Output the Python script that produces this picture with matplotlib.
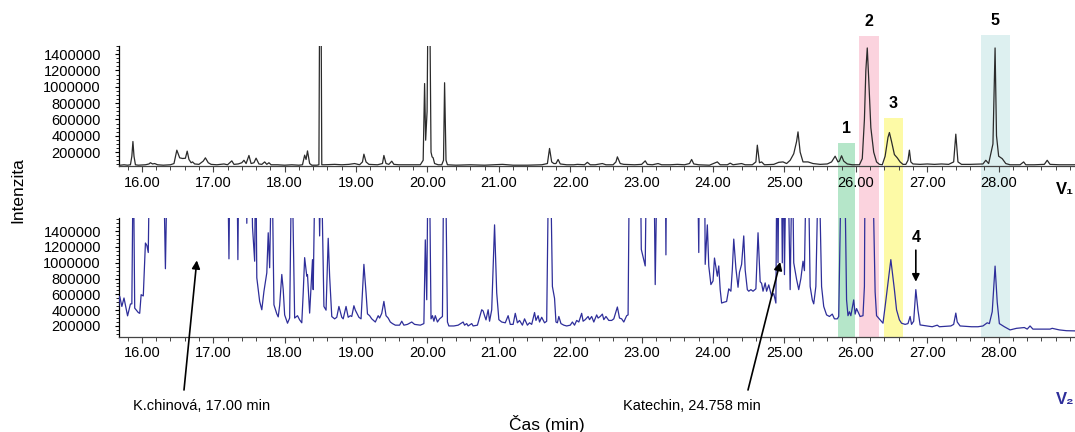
import matplotlib
matplotlib.use('Agg')
import matplotlib.pyplot as plt
from matplotlib.patches import Rectangle
from matplotlib.ticker import MultipleLocator, FixedLocator, FixedFormatter
from matplotlib.transforms import blended_transform_factory

plt.rcParams['font.family'] = ['Liberation Sans', 'DejaVu Sans']
plt.rcParams['font.size'] = 10

# ---- V1 chromatogram (time in min, intensity) ----
v1_time = [15.66, 15.70, 15.75, 15.80, 15.84, 15.86, 15.875, 15.89, 15.91, 15.95,
           16.05, 16.10, 16.12, 16.15, 16.18, 16.22, 16.30, 16.40, 16.45, 16.49,
           16.53, 16.57, 16.61, 16.635, 16.66, 16.69, 16.71, 16.74, 16.80, 16.86,
           16.89, 16.93, 16.97, 17.05, 17.10, 17.15, 17.20, 17.26, 17.29, 17.35,
           17.40, 17.43, 17.46, 17.50, 17.53, 17.57, 17.60, 17.64, 17.68, 17.72,
           17.75, 17.78, 17.81, 17.90, 18.00, 18.10, 18.20, 18.25, 18.28, 18.30,
           18.32, 18.35, 18.38, 18.45, 18.48, 18.492, 18.508, 18.52, 18.56, 18.70,
           18.80, 18.90, 18.98, 19.05, 19.09, 19.11, 19.14, 19.18, 19.30, 19.37,
           19.39, 19.42, 19.46, 19.50, 19.53, 19.60, 19.75, 19.90, 19.94, 19.96,
           19.975, 19.995, 20.012, 20.028, 20.05, 20.065, 20.08, 20.10, 20.15, 20.20,
           20.225, 20.24, 20.26, 20.28, 20.40, 20.60, 20.80, 21.05, 21.20, 21.40,
           21.60, 21.68, 21.71, 21.74, 21.77, 21.80, 21.83, 21.86, 21.95, 22.05,
           22.10, 22.20, 22.24, 22.28, 22.35, 22.45, 22.50, 22.60, 22.64, 22.66,
           22.70, 22.75, 22.90, 23.00, 23.05, 23.08, 23.15, 23.23, 23.28, 23.40,
           23.50, 23.60, 23.67, 23.70, 23.73, 23.80, 23.95, 24.06, 24.10, 24.20,
           24.24, 24.28, 24.40, 24.45, 24.55, 24.60, 24.62, 24.65, 24.68, 24.72,
           24.85, 24.92, 24.98, 25.03, 25.08, 25.13, 25.17, 25.19, 25.22, 25.26,
           25.33, 25.40, 25.50, 25.60, 25.66, 25.71, 25.75, 25.77, 25.80, 25.83,
           25.88, 25.95, 26.05, 26.09, 26.12, 26.14, 26.16, 26.18, 26.21, 26.25,
           26.29, 26.33, 26.37, 26.41, 26.45, 26.47, 26.50, 26.54, 26.58, 26.62,
           26.66, 26.70, 26.73, 26.75, 26.77, 26.80, 26.90, 27.00, 27.10, 27.20,
           27.30, 27.37, 27.40, 27.43, 27.48, 27.60, 27.78, 27.82, 27.86, 27.92,
           27.95, 27.97, 28.00, 28.05, 28.10, 28.16, 28.30, 28.35, 28.38, 28.50,
           28.64, 28.68, 28.72, 28.85, 29.00, 29.10]
v1_int = [45e3, 40e3, 45e3, 40e3, 45e3, 150e3, 330e3, 150e3, 45e3, 40e3,
          45e3, 55e3, 70e3, 55e3, 60e3, 45e3, 40e3, 45e3, 60e3, 224e3,
          130e3, 122e3, 125e3, 212e3, 110e3, 70e3, 80e3, 55e3, 50e3, 90e3,
          130e3, 70e3, 50e3, 45e3, 50e3, 55e3, 45e3, 93e3, 50e3, 55e3,
          70e3, 100e3, 60e3, 159e3, 60e3, 70e3, 126e3, 55e3, 50e3, 80e3,
          50e3, 70e3, 45e3, 45e3, 40e3, 45e3, 40e3, 45e3, 163e3, 110e3,
          215e3, 60e3, 40e3, 40e3, 45e3, 2500e3, 2500e3, 45e3, 45e3, 50e3,
          45e3, 50e3, 60e3, 45e3, 80e3, 175e3, 80e3, 50e3, 45e3, 60e3,
          159e3, 60e3, 50e3, 89e3, 50e3, 45e3, 45e3, 45e3, 100e3, 1040e3,
          346e3, 700e3, 2500e3, 2500e3, 200e3, 142e3, 130e3, 60e3, 45e3, 45e3,
          100e3, 1050e3, 100e3, 45e3, 40e3, 45e3, 40e3, 50e3, 40e3, 40e3,
          45e3, 60e3, 245e3, 80e3, 60e3, 60e3, 110e3, 55e3, 45e3, 45e3,
          50e3, 45e3, 75e3, 45e3, 45e3, 60e3, 45e3, 45e3, 80e3, 142e3,
          60e3, 50e3, 45e3, 50e3, 93e3, 50e3, 45e3, 60e3, 45e3, 45e3,
          50e3, 45e3, 60e3, 110e3, 55e3, 45e3, 40e3, 80e3, 45e3, 45e3,
          65e3, 45e3, 60e3, 45e3, 45e3, 80e3, 285e3, 70e3, 80e3, 45e3,
          50e3, 75e3, 80e3, 60e3, 100e3, 180e3, 330e3, 448e3, 200e3, 80e3,
          80e3, 60e3, 50e3, 55e3, 80e3, 150e3, 80e3, 90e3, 155e3, 90e3,
          55e3, 45e3, 45e3, 120e3, 600e3, 1200e3, 1476e3, 1100e3, 500e3, 200e3,
          80e3, 50e3, 45e3, 150e3, 380e3, 440e3, 330e3, 170e3, 130e3, 80e3,
          50e3, 50e3, 100e3, 224e3, 80e3, 55e3, 50e3, 55e3, 50e3, 55e3,
          50e3, 80e3, 420e3, 80e3, 50e3, 50e3, 55e3, 100e3, 60e3, 300e3,
          1476e3, 400e3, 150e3, 120e3, 60e3, 45e3, 45e3, 80e3, 45e3, 45e3,
          50e3, 100e3, 50e3, 45e3, 45e3, 45e3]

# ---- V2 chromatogram ----
v2_time = [15.65, 15.67, 15.69, 15.72, 15.75, 15.80, 15.84, 15.86, 15.88, 15.90,
           15.95, 15.97, 15.99, 16.02, 16.05, 16.07, 16.09, 16.11, 16.30, 16.33,
           16.36, 17.20, 17.22, 17.235, 17.33, 17.345, 17.36, 17.46, 17.47, 17.48,
           17.53, 17.55, 17.58, 17.595, 17.61, 17.65, 17.68, 17.71, 17.75, 17.77,
           17.79, 17.82, 17.85, 17.89, 17.91, 17.93, 17.96, 17.98, 18.00, 18.04,
           18.07, 18.10, 18.14, 18.18, 18.21, 18.24, 18.26, 18.28, 18.31, 18.32,
           18.35, 18.39, 18.40, 18.43, 18.47, 18.49, 18.51, 18.55, 18.58, 18.61,
           18.63, 18.66, 18.70, 18.73, 18.76, 18.80, 18.82, 18.86, 18.89, 18.92,
           18.94, 18.97, 18.99, 19.04, 19.07, 19.11, 19.14, 19.16, 19.19, 19.22,
           19.27, 19.31, 19.33, 19.36, 19.39, 19.42, 19.45, 19.48, 19.51, 19.55,
           19.61, 19.64, 19.67, 19.72, 19.78, 19.82, 19.90, 19.95, 19.97, 19.99,
           20.01, 20.025, 20.05, 20.07, 20.09, 20.11, 20.14, 20.17, 20.21, 20.23,
           20.25, 20.28, 20.30, 20.37, 20.43, 20.50, 20.52, 20.55, 20.57, 20.62,
           20.64, 20.70, 20.76, 20.78, 20.80, 20.82, 20.85, 20.87, 20.90, 20.94,
           20.97, 21.00, 21.04, 21.09, 21.13, 21.16, 21.20, 21.23, 21.26, 21.29,
           21.33, 21.36, 21.40, 21.43, 21.46, 21.50, 21.52, 21.55, 21.57, 21.60,
           21.64, 21.67, 21.70, 21.72, 21.75, 21.78, 21.80, 21.82, 21.84, 21.87,
           21.91, 21.95, 22.00, 22.03, 22.06, 22.09, 22.12, 22.16, 22.18, 22.21,
           22.25, 22.27, 22.30, 22.33, 22.37, 22.39, 22.42, 22.45, 22.47, 22.50,
           22.54, 22.58, 22.61, 22.66, 22.69, 22.72, 22.75, 22.79, 22.81, 22.83,
           22.98, 22.995, 23.05, 23.07, 23.17, 23.19, 23.22, 23.33, 23.34, 23.35,
           23.78, 23.80, 23.81, 23.88, 23.89, 23.92, 23.94, 23.97, 24.00, 24.02,
           24.06, 24.08, 24.10, 24.12, 24.15, 24.19, 24.22, 24.25, 24.27, 24.29,
           24.32, 24.35, 24.37, 24.40, 24.43, 24.45, 24.48, 24.50, 24.53, 24.56,
           24.60, 24.63, 24.66, 24.68, 24.70, 24.73, 24.75, 24.78, 24.82, 24.85,
           24.88, 24.895, 24.91, 24.925, 24.955, 24.97, 24.985, 25.00, 25.025, 25.045,
           25.08, 25.11, 25.13, 25.17, 25.20, 25.23, 25.26, 25.28, 25.31, 25.33,
           25.36, 25.39, 25.41, 25.44, 25.48, 25.52, 25.55, 25.59, 25.63, 25.67,
           25.70, 25.74, 25.76, 25.80, 25.84, 25.87, 25.89, 25.91, 25.93, 25.97,
           25.99, 26.01, 26.06, 26.10, 26.12, 26.13, 26.23, 26.27, 26.29, 26.34,
           26.38, 26.41, 26.45, 26.49, 26.51, 26.54, 26.57, 26.61, 26.64, 26.69,
           26.73, 26.76, 26.78, 26.81, 26.84, 26.87, 26.90, 27.00, 27.07, 27.14,
           27.17, 27.25, 27.33, 27.37, 27.40, 27.42, 27.46, 27.55, 27.62, 27.71,
           27.78, 27.84, 27.87, 27.91, 27.95, 27.98, 28.01, 28.08, 28.16, 28.25,
           28.36, 28.40, 28.44, 28.48, 28.60, 28.72, 28.75, 28.85, 28.95, 29.10]
v2_int = [618e3, 405e3, 575e3, 447e3, 554e3, 328e3, 478e3, 480e3, 2500e3, 426e3,
          370e3, 360e3, 596e3, 580e3, 1250e3, 1220e3, 1130e3, 2500e3, 2500e3, 925e3,
          2500e3, 2500e3, 1050e3, 2500e3, 2500e3, 1040e3, 2500e3, 2500e3, 1500e3, 2500e3,
          2500e3, 1450e3, 1020e3, 2500e3, 810e3, 511e3, 405e3, 638e3, 873e3, 1380e3,
          937e3, 2500e3, 468e3, 353e3, 315e3, 460e3, 852e3, 660e3, 340e3, 235e3,
          300e3, 2500e3, 300e3, 330e3, 277e3, 240e3, 618e3, 1065e3, 830e3, 850e3,
          363e3, 1040e3, 660e3, 2500e3, 2500e3, 1340e3, 2500e3, 447e3, 400e3, 1310e3,
          830e3, 319e3, 290e3, 310e3, 447e3, 310e3, 290e3, 447e3, 310e3, 330e3,
          320e3, 456e3, 400e3, 310e3, 290e3, 980e3, 620e3, 353e3, 330e3, 290e3,
          250e3, 330e3, 300e3, 360e3, 511e3, 330e3, 300e3, 250e3, 230e3, 210e3,
          210e3, 260e3, 210e3, 220e3, 250e3, 220e3, 210e3, 230e3, 1290e3, 532e3,
          2500e3, 2500e3, 290e3, 330e3, 260e3, 330e3, 250e3, 290e3, 320e3, 2500e3,
          2500e3, 250e3, 200e3, 200e3, 210e3, 250e3, 210e3, 230e3, 200e3, 230e3,
          200e3, 210e3, 405e3, 390e3, 330e3, 277e3, 405e3, 260e3, 405e3, 1480e3,
          620e3, 280e3, 250e3, 240e3, 330e3, 220e3, 220e3, 360e3, 240e3, 270e3,
          210e3, 290e3, 210e3, 240e3, 220e3, 370e3, 270e3, 330e3, 250e3, 310e3,
          240e3, 260e3, 2500e3, 2500e3, 700e3, 550e3, 250e3, 240e3, 320e3, 230e3,
          210e3, 200e3, 210e3, 250e3, 210e3, 270e3, 250e3, 360e3, 260e3, 280e3,
          320e3, 280e3, 320e3, 250e3, 340e3, 300e3, 320e3, 350e3, 280e3, 320e3,
          270e3, 270e3, 290e3, 440e3, 300e3, 290e3, 250e3, 330e3, 340e3, 2500e3,
          2500e3, 1170e3, 960e3, 2500e3, 2500e3, 724e3, 2500e3, 2500e3, 1100e3, 2500e3,
          2500e3, 1130e3, 2500e3, 2500e3, 980e3, 1480e3, 960e3, 724e3, 770e3, 1060e3,
          830e3, 960e3, 660e3, 490e3, 500e3, 510e3, 670e3, 640e3, 915e3, 1300e3,
          930e3, 690e3, 880e3, 980e3, 1340e3, 910e3, 660e3, 640e3, 660e3, 640e3,
          670e3, 1380e3, 760e3, 740e3, 640e3, 745e3, 640e3, 720e3, 575e3, 610e3,
          490e3, 2500e3, 1000e3, 2500e3, 2500e3, 1000e3, 2500e3, 850e3, 2500e3, 2500e3,
          660e3, 2500e3, 1000e3, 790e3, 660e3, 800e3, 1020e3, 900e3, 2500e3, 2500e3,
          700e3, 530e3, 480e3, 700e3, 2500e3, 700e3, 447e3, 340e3, 320e3, 350e3,
          290e3, 290e3, 320e3, 2500e3, 2500e3, 530e3, 330e3, 380e3, 330e3, 530e3,
          350e3, 420e3, 320e3, 330e3, 700e3, 2500e3, 2500e3, 630e3, 330e3, 277e3,
          235e3, 447e3, 745e3, 1040e3, 890e3, 660e3, 405e3, 277e3, 235e3, 220e3,
          230e3, 320e3, 220e3, 260e3, 660e3, 400e3, 213e3, 200e3, 190e3, 210e3,
          190e3, 195e3, 200e3, 220e3, 363e3, 250e3, 200e3, 195e3, 190e3, 190e3,
          200e3, 240e3, 230e3, 380e3, 958e3, 500e3, 230e3, 190e3, 150e3, 170e3,
          180e3, 160e3, 200e3, 160e3, 160e3, 160e3, 170e3, 150e3, 140e3, 137e3]

# ---- axes labels / ticks ----
x_ticks = [16, 17, 18, 19, 20, 21, 22, 23, 24, 25, 26, 27, 28]
x_tick_labels = ['16.00', '17.00', '18.00', '19.00', '20.00', '21.00', '22.00',
                 '23.00', '24.00', '25.00', '26.00', '27.00', '28.00']
y_ticks = [200000, 400000, 600000, 800000, 1000000, 1200000, 1400000]
y_tick_labels = ['200000', '400000', '600000', '800000', '1000000', '1200000', '1400000']

# ---- highlighted zones ----
band_start = [25.75, 26.04, 26.39, 27.75]
band_end = [25.99, 26.32, 26.66, 28.16]
band_top = [310000, 1620000, 616000, 1635000]
band_colors = ['#b5e6c9', '#fbd3de', '#fdfaa6', '#ddf0f0']
band_labels = ['1', '2', '3', '5']

W, H = 1075, 432
fig = plt.figure(figsize=(W / 100, H / 100), dpi=100)
ax1 = fig.add_axes([119 / W, 266 / H, 956 / W, 120 / H])
ax2 = fig.add_axes([119 / W, 95.3 / H, 956 / W, 118.7 / H])

xlim = (15.68, 15.68 + 956 / 71.4)
for ax, ylim in ((ax1, (30000, 1500000)), (ax2, (64000, 1567000))):
    ax.set_facecolor('none')
    ax.set_xlim(*xlim)
    ax.set_ylim(*ylim)
    for s in ('top', 'right'):
        ax.spines[s].set_visible(False)
    ax.spines['left'].set_linewidth(0.9)
    ax.spines['bottom'].set_linewidth(0.9)
    ax.spines['bottom'].set_color('#444444')
    ax.xaxis.set_major_locator(FixedLocator(x_ticks))
    ax.xaxis.set_major_formatter(FixedFormatter(x_tick_labels))
    ax.xaxis.set_minor_locator(MultipleLocator(0.2))
    ax.yaxis.set_major_locator(FixedLocator(y_ticks))
    ax.yaxis.set_major_formatter(FixedFormatter(y_tick_labels))
    ax.yaxis.set_minor_locator(MultipleLocator(50000))
    ax.tick_params(axis='x', which='major', length=4, width=0.8, pad=3,
                   labelsize=10.5, color='#444444')
    ax.tick_params(axis='x', which='minor', length=3, width=0.7, color='#444444')
    ax.tick_params(axis='y', which='major', length=3, width=0.8, pad=10, labelsize=10.5)
    ax.tick_params(axis='y', which='minor', length=2, width=0.6)

ax1.plot(v1_time, v1_int, color='#2b2b2b', lw=0.9, zorder=3)
ax2.plot(v2_time, v2_int, color='#2e2e9a', lw=0.9, zorder=3)

# bands spanning both panels
inv = fig.transFigure.inverted()
bot_frac = ax2.get_position().y0
trans = blended_transform_factory(ax1.transData, fig.transFigure)
for xs, xe, top, col, lab in zip(band_start, band_end, band_top, band_colors, band_labels):
    top_frac = inv.transform(ax1.transData.transform((xs, top)))[1]
    rect = Rectangle((xs, bot_frac), xe - xs, top_frac - bot_frac, transform=trans,
                     facecolor=col, edgecolor='none', zorder=-5)
    fig.add_artist(rect)
    fig.text((xs + xe) / 2, top_frac + 7 / H, lab, transform=trans, ha='center',
             va='bottom', fontsize=11.5, fontweight='bold')

# peak 4 arrow
ax2.annotate('4', xy=(26.84, 760000), xytext=(26.84, 1230000), ha='center', va='bottom',
             fontsize=11.5, fontweight='bold',
             arrowprops=dict(arrowstyle='-|>', color='black', lw=1.2, mutation_scale=11,
                             shrinkA=2, shrinkB=0))

# compound annotations
ax2.annotate('', xy=(16.77, 1030000), xytext=(184 / W, 1 - 390 / H),
             textcoords='figure fraction',
             arrowprops=dict(arrowstyle='-|>', color='black', lw=1.2, mutation_scale=12,
                             shrinkA=0, shrinkB=0), annotation_clip=False)
ax2.annotate('', xy=(24.94, 1010000), xytext=(748 / W, 1 - 390 / H),
             textcoords='figure fraction',
             arrowprops=dict(arrowstyle='-|>', color='black', lw=1.2, mutation_scale=12,
                             shrinkA=0, shrinkB=0), annotation_clip=False)
fig.text(202 / W, 1 - 406 / H, 'K.chinová, 17.00 min', ha='center', va='center', fontsize=10.5)
fig.text(692 / W, 1 - 406 / H, 'Katechin, 24.758 min', ha='center', va='center', fontsize=10.5)

fig.text(547 / W, 1 - 424 / H, 'Čas (min)', ha='center', va='center', fontsize=12.5)
fig.text(18 / W, 1 - 190 / H, 'Intenzita', ha='center', va='center', rotation=90, fontsize=12.5)

fig.text(1056 / W, 1 - 189 / H, 'V₁', ha='left', va='center', fontsize=12,
         fontweight='bold', color='black')
fig.text(1056 / W, 1 - 399 / H, 'V₂', ha='left', va='center', fontsize=12,
         fontweight='bold', color='#2e2e9a')

fig.savefig('out.png', dpi=100)
